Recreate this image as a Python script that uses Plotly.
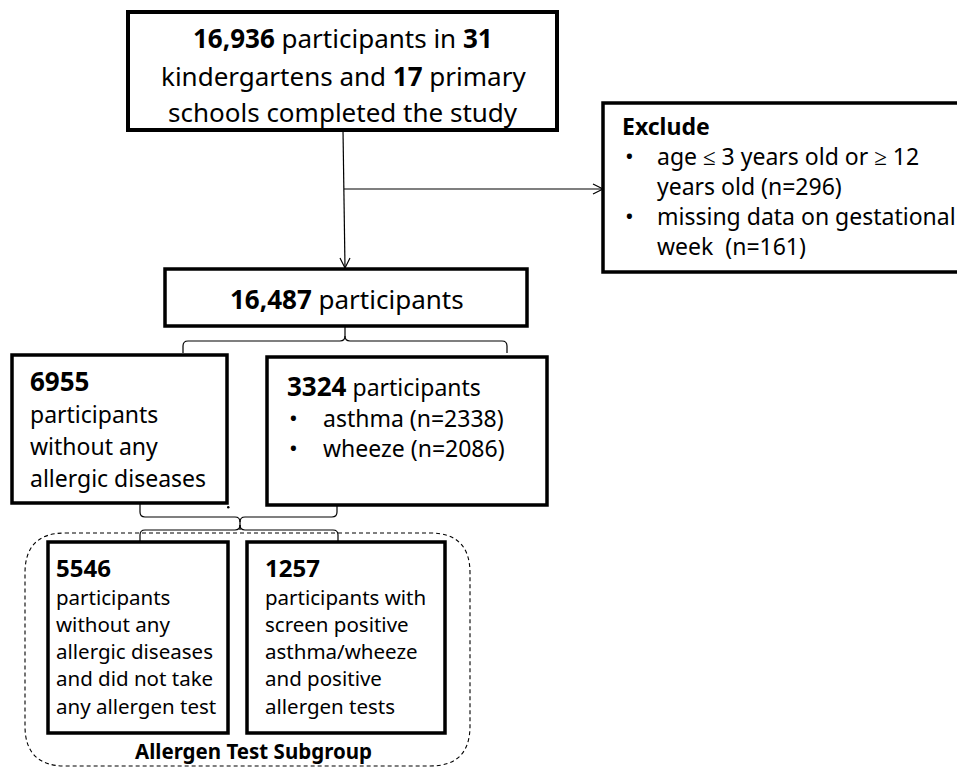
import plotly.graph_objects as go

# ---- data (counts shown in the flowchart) ----
n_completed = 16936
n_kindergartens = 31
n_primary = 17
n_excl_age = 296
n_excl_gest = 161
n_included = 16487
n_no_allergy = 6955
n_asthma_wheeze = 3324
n_asthma = 2338
n_wheeze = 2086
n_sub_no_allergy = 5546
n_sub_positive = 1257

FONT = "Noto Sans"
BLACK = "#000000"
PAGE_MARGIN = 8  # default body margin of the html page

fig = go.Figure()
shapes = []
annotations = []


def box(x0, y0, x1, y1, w=3.5):
    shapes.append(dict(type="rect", x0=x0, y0=y0, x1=x1, y1=y1,
                       line=dict(color=BLACK, width=w), fillcolor="rgba(0,0,0,0)"))


def path(d, w=1.2, dash=None):
    ln = dict(color=BLACK, width=w)
    if dash:
        ln["dash"] = dash
    shapes.append(dict(type="path", path=d, line=ln))


def text(x, y, s, size, anchor="left", bold=False):
    if bold:
        s = "<b>" + s + "</b>"
    annotations.append(dict(x=x, y=y, xref="x", yref="y", text=s, showarrow=False,
                            xanchor=anchor, yanchor="middle", borderpad=0,
                            font=dict(family=FONT, size=size, color=BLACK)))


def num(n, size):
    return f"<b><span style='font-size:{size}px'>{n}</span></b>"


# ---- top box ----
box(128, 12, 557, 130, 4)
top_lines = [f"<b>{n_completed:,}</b> participants in <b>{n_kindergartens}</b>",
             f"kindergartens and <b>{n_primary}</b> primary",
             "schools completed the study"]
for s, y in zip(top_lines, [38, 76, 112]):
    text(343, y, s, 26, anchor="center")

# ---- arrows ----
path("M 343 130 L 345 268", 1.2)
path("M 340 258 L 345 268 L 350 258", 1.2)
path("M 344 189 L 603 189", 1.2)
path("M 593 184 L 603 189 L 593 194", 1.2)

# ---- exclude box ----
box(603, 103, 963, 272, 3.5)
text(621, 126, "Exclude", 23, bold=True)
excl_lines = [(True, "age \u2264 3 years old or \u2265 12"),
              (False, f"years old (n={n_excl_age})"),
              (True, "missing data on gestational"),
              (False, f"week\u00a0\u00a0(n={n_excl_gest})")]
for (b, s), y in zip(excl_lines, [156, 186, 216, 246]):
    if b:
        text(625, y, "•", 18, bold=True)
    text(656, y, s, 23)

# ---- middle box ----
box(165, 269, 527, 326, 3.5)
text(347, 299, f"<b>{n_included:,}</b> participants", 26, anchor="center")

# ---- upper brace ----
path("M 345 326 L 345 336 Q 345 341 340 341 L 188 341 Q 183 341 183 346 L 183 353", 1.2)
path("M 345 336 Q 345 341 350 341 L 502 341 Q 507 341 507 346 L 507 353", 1.2)

# ---- second row boxes ----
box(12, 355, 227, 503, 3.5)
text(29, 381, f"<b>{n_no_allergy}</b>", 26)
for s, y in zip(["participants", "without any", "allergic diseases"], [414, 446, 478]):
    text(29, y, s, 23)

box(267, 357, 547, 505, 3.5)
text(286, 386, f"{num(n_asthma_wheeze, 26)} participants", 23)
for s, y in zip([f"asthma (n={n_asthma})", f"wheeze (n={n_wheeze})"], [418, 448]):
    text(289, y, "•", 18, bold=True)
    text(322, y, s, 23)

# small stray dot
shapes.append(dict(type="circle", x0=227, y0=506, x1=229.5, y1=508.5,
                   line=dict(width=0), fillcolor=BLACK))

# ---- lower brace (merge) ----
path("M 140 503 L 140 512 Q 140 517 145 517 L 235 517 Q 240 517 240 522 L 240 530", 1.2)
path("M 337 505 L 337 512 Q 337 517 332 517 L 245 517 Q 240 517 240 522", 1.2)
path("M 240 525 Q 240 530 235 530 L 145 530 Q 140 530 140 535 L 140 542", 1.2)
path("M 240 525 Q 240 530 245 530 L 333 530 Q 338 530 338 535 L 338 542", 1.2)

# ---- dashed subgroup container ----
path("M 65 533 L 430 533 Q 470 533 470 573 L 470 726 Q 470 766 430 766 "
     "L 65 766 Q 25 766 25 726 L 25 573 Q 25 533 65 533 Z", 1.1, dash="4px,3px")

# ---- subgroup boxes ----
ys = [567, 597, 624, 651, 678, 706]
box(48, 542, 228, 733, 3.5)
text(55, ys[0], f"<b>{n_sub_no_allergy}</b>", 24)
for s, y in zip(["participants", "without any", "allergic diseases",
                 "and did not take", "any allergen test"], ys[1:]):
    text(55, y, s, 20.5)

box(247, 542, 445, 733, 3.5)
text(264, ys[0], f"<b>{n_sub_positive}</b>", 24)
for s, y in zip(["participants with", "screen positive", "asthma/wheeze",
                 "and positive", "allergen tests"], ys[1:]):
    text(264, y, s, 20.5)

text(253, 751, "Allergen Test Subgroup", 20.5, anchor="center", bold=True)

W, H = 965, 768
fig.update_layout(
    width=W - PAGE_MARGIN, height=H - PAGE_MARGIN,
    margin=dict(l=0, r=0, t=0, b=0),
    paper_bgcolor="white", plot_bgcolor="white",
    xaxis=dict(range=[PAGE_MARGIN, W], visible=False, fixedrange=True),
    yaxis=dict(range=[H, PAGE_MARGIN], visible=False, fixedrange=True),
    shapes=shapes, annotations=annotations, showlegend=False,
)

fig.write_html("out.html")
